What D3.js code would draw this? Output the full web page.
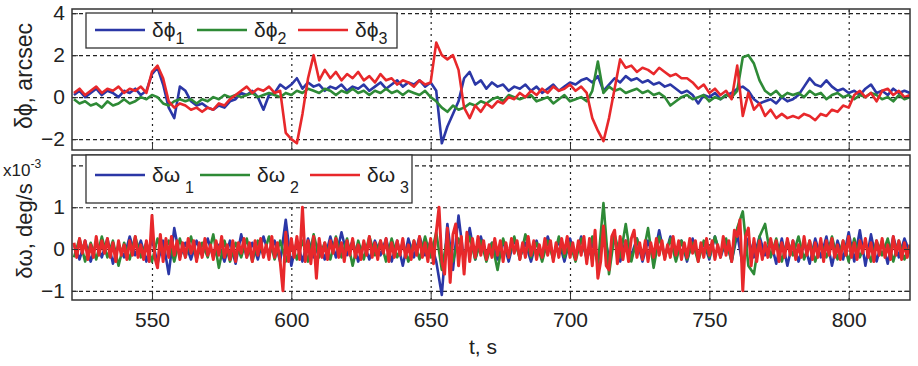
<!DOCTYPE html>
<html>
<head>
<meta charset="utf-8">
<script src="https://cdn.jsdelivr.net/npm/d3@7"></script>
<style>
body { margin: 0; background: #fff; }
svg { font-family: "Liberation Sans", Arial, sans-serif; }
</style>
</head>
<body>
<svg id="chart" width="918" height="366"></svg>
<script>
// sampling grids: 2 s for the coarse series, 1 s for the fine one
var tStart = 522, tStep = 2, nPts = 151;
var tStepFine = 1, nPtsFine = 301;

var xTicks = [550, 600, 650, 700, 750, 800];
var phiTicks = [-2, 0, 2, 4];
var omegaGrid = [-1, 0, 1, 2];
var omegaTicks = [-1, 0, 1];

// attitude error, arcsec
var phi1 = [
  0.1, 0.3, 0.0, 0.2, 0.4, 0.1, 0.3, 0.2, 0.0, 0.3,
  0.2, 0.4, 0.1, 0.3, 1.1, 1.4, 0.6, -0.5, -1.0, 0.5,
  0.3, -0.2, -0.4, -0.3, -0.5, -0.6, -0.4, -0.5, -0.2, -0.1,
  0.2, 0.1, 0.3, 0.0, -0.6, 0.1, 0.2, 0.6, 0.4, 0.6,
  0.9, 0.4, 0.7, 0.5, 0.6, 0.3, 0.5, 0.4, 0.6, 0.3,
  0.5, 0.4, 0.6, 0.3, 0.5, 0.7, 0.4, 0.6, 0.8, 0.5,
  0.7, 0.6, 0.8, 0.5, 0.7, 0.3, -2.2, -1.4, -0.8, -0.2,
  0.9, 1.2, 0.6, 0.8, 0.4, 0.7, 0.5, 0.6, 0.3, 0.5,
  0.4, 0.6, 0.3, 0.5, 0.2, 0.4, 0.6, 0.3, 0.5, 0.7,
  0.6, 0.8, 0.9, 0.7, 1.0, 0.3, 0.6, 0.9, 0.7, 1.0,
  0.8, 0.9, 0.7, 0.8, 0.6, 0.7, 0.5, 0.6, 0.4, 0.2,
  0.3, 0.1, -0.3, 0.1, 0.0, 0.2, -0.1, 0.1, 0.2, 0.4,
  0.5, 0.3, -0.1, -0.3, -0.2, -0.1, -0.3, 0.0, -0.2, -0.1,
  0.1, 0.5, 0.9, 0.6, 0.5, 0.8, 0.5, 0.3, 0.4, 0.2,
  0.3, 0.1, 0.4, 0.6, 0.2, 0.3, 0.1, 0.4, 0.2, 0.3,
  0.2
];
var phi2 = [
  -0.1, -0.3, -0.2, -0.4, -0.3, -0.5, -0.2, -0.4, -0.3, -0.1,
  -0.3, -0.2, 0.0, -0.1, 0.1, 0.0, -0.3, -0.4, -0.2, -0.1,
  -0.2, -0.1, -0.3, -0.1, -0.2, 0.0, -0.1, 0.1, 0.0, 0.1,
  0.0, 0.1, 0.2, 0.0, 0.1, 0.2, 0.1, 0.0, 0.2, 0.1,
  0.3, 0.2, 0.4, 0.3, 0.2, 0.4, 0.3, 0.1, 0.3, 0.2,
  0.4, 0.2, 0.3, 0.1, 0.3, 0.2, 0.4, 0.2, 0.3, 0.1,
  0.3, 0.2, 0.1, 0.3, 0.0, -0.2, -0.5, -0.7, -0.4, -0.6,
  -0.5, -0.3, -0.4, -0.2, -0.3, -0.1, 0.0, -0.2, 0.1, 0.0,
  -0.1, 0.0, 0.1, -0.2, -0.1, 0.0, -0.3, -0.1, 0.1, -0.2,
  -0.1, 0.0, -0.2, 0.3, 1.7, 0.2, 0.5, 0.3, 0.4, 0.2,
  0.3, 0.4, 0.2, 0.3, 0.1, 0.2, 0.0, -0.4, -0.2, 0.0,
  0.1, -0.1, 0.0, 0.1, -0.2, 0.0, -0.1, 0.1, 0.0, 0.3,
  1.9, 2.0, 1.6, 0.8, 0.3, 0.1, 0.3, 0.0, 0.2, 0.1,
  0.2, 0.0, 0.3, 0.1, 0.2, -0.1, 0.1, 0.2, 0.0, 0.1,
  -0.1, 0.1, 0.0, 0.2, 0.1, -0.1, 0.0, -0.2, 0.1, -0.1,
  0.0
];
var phi3 = [
  0.2, 0.4, 0.1, 0.3, 0.5, 0.2, 0.4, 0.3, 0.5, 0.2,
  0.4, 0.3, 0.5, 0.2, 1.2, 1.5, 0.9, -0.2, -0.5, -0.3,
  -0.4, -0.6, -0.5, -0.7, -0.5, -0.6, -0.3, -0.4, -0.1, 0.1,
  0.3, 0.5, 0.2, 0.4, 0.3, 0.5, 0.2, 0.3, -1.7, -2.0,
  -2.2, -0.8, 0.9, 2.0, 0.8, 1.3, 0.9, 1.2, 0.8, 1.1,
  0.9, 1.2, 0.8, 1.0, 0.7, 1.1, 0.8, 0.9, 0.6, 0.8,
  0.7, 0.5, 0.8, 0.6, 0.7, 2.6, 2.0, 1.8, 2.0, 1.3,
  -0.5, -1.0, -0.4, -0.7, -0.3, -0.5, -0.2, -0.3, 0.0, -0.1,
  0.2, 0.0, 0.3, 0.1, 0.4, 0.2, 0.5, 0.3, 0.4, 0.6,
  0.3, 0.5, 0.2, -1.0, -1.6, -2.1, -1.0, 0.4, 1.8, 1.4,
  1.5, 1.2, 1.4, 1.3, 1.1, 1.4, 1.2, 1.0, 1.1, 0.9,
  0.9, 0.7, 0.4, 0.6, 0.2, 0.4, 0.1, 0.3, -0.1, 1.5,
  -0.9, 0.2, -0.6, -0.3, -0.9, -0.6, -1.0, -0.8, -1.0, -0.9,
  -1.0, -0.8, -0.9, -1.1, -0.8, -0.9, -0.6, -0.7, -0.4, -0.5,
  0.1, 0.3, 0.0, 0.2, -0.2, 0.3, 0.4, 0.1, 0.3, 0.0,
  0.1
];

// angular rate error, 1e-3 deg/s (omega1, omega2 on the 2 s grid)
var omega1 = [
  0.1, -0.25, 0.2, -0.3, 0.15, -0.2, 0.25, -0.35, 0.1, -0.2,
  0.3, -0.15, 0.2, -0.3, 0.25, -0.35, 0.2, -0.6, 0.5, -0.2,
  0.15, -0.25, 0.2, -0.15, 0.25, -0.2, 0.1, -0.3, 0.2, -0.35,
  0.35, -0.2, 0.15, -0.25, 0.3, -0.15, 0.2, -0.3, 0.7, -0.4,
  0.2, -0.3, 0.25, -0.2, 0.15, -0.25, 0.3, -0.2, 0.4, -0.15,
  0.2, -0.3, 0.15, -0.25, 0.2, -0.15, 0.25, -0.3, 0.2, -0.4,
  0.25, -0.2, 0.3, -0.15, 0.2, -0.3, -1.1, 0.6, -0.5, 0.8,
  -0.3, 0.5, -0.25, 0.3, -0.2, 0.15, -0.25, 0.2, -0.3, 0.25,
  -0.2, 0.15, -0.3, 0.2, -0.25, 0.3, -0.15, 0.2, -0.3, 0.25,
  -0.2, 0.3, -0.25, 0.15, -0.3, 0.4, -0.2, 0.25, -0.3, 0.2,
  -0.15, 0.25, -0.3, 0.2, -0.25, 0.45, -0.2, 0.3, -0.15, 0.2,
  -0.3, 0.25, -0.2, 0.15, -0.25, 0.3, -0.2, 0.2, -0.3, 0.35,
  -0.4, 0.25, -0.2, 0.3, -0.15, 0.2, -0.35, 0.25, -0.4, 0.2,
  -0.3, 0.15, -0.35, 0.25, -0.2, 0.3, -0.4, 0.2, -0.25, 0.4,
  -0.3, 0.45, -0.4, 0.35, -0.3, 0.2, -0.35, 0.3, -0.2, 0.25,
  -0.1
];
var omega2 = [
  -0.2, 0.25, -0.3, 0.15, -0.25, 0.3, -0.2, 0.2, -0.4, 0.15,
  -0.25, 0.3, -0.2, 0.15, -0.3, 0.25, -0.15, 0.2, -0.3, 0.25,
  -0.2, 0.3, -0.25, 0.15, -0.2, 0.35, -0.45, 0.2, -0.3, 0.15,
  -0.2, 0.25, -0.3, 0.2, -0.15, 0.3, -0.25, 0.2, -0.3, 0.15,
  -0.25, 0.2, -0.3, 0.35, -0.2, 0.15, -0.25, 0.3, -0.2, 0.25,
  -0.4, 0.2, -0.25, 0.3, -0.15, 0.2, -0.3, 0.25, -0.2, 0.15,
  -0.3, 0.2, -0.25, 0.3, -0.2, 0.4, -0.5, 0.3, -0.3, 0.25,
  -0.2, 0.3, -0.25, 0.2, -0.3, 0.15, -0.5, 0.25, -0.2, 0.3,
  -0.25, 0.35, -0.2, 0.15, -0.3, 0.2, -0.25, 0.3, -0.2, 0.15,
  -0.3, 0.25, -0.2, 0.3, -0.4, 1.1, -0.6, 0.35, -0.2, 0.6,
  -0.3, 0.25, -0.2, 0.5, -0.45, 0.3, -0.2, 0.25, -0.3, 0.2,
  -0.25, 0.15, -0.3, 0.2, -0.2, 0.3, -0.15, 0.25, -0.3, 0.5,
  0.9, -0.4, -0.6, 0.3, 0.6, -0.2, 0.25, -0.3, 0.2, -0.15,
  0.3, -0.25, 0.2, -0.3, 0.15, -0.2, 0.3, -0.25, 0.2, -0.3,
  0.25, -0.2, 0.15, -0.3, 0.2, -0.15, 0.25, -0.3, 0.2, -0.25,
  0.1
];
// omega3 on the 1 s grid
var omega3 = [
  0.15, -0.2, 0.25, -0.1, 0.2, -0.25, 0.1, -0.2, 0.3, -0.15,
  0.2, -0.1, 0.25, -0.2, 0.15, -0.3, 0.2, -0.15, 0.1, -0.25,
  0.2, -0.15, 0.3, -0.2, 0.1, -0.25, 0.2, -0.3, 0.8, -0.2,
  -0.45, 0.35, -0.3, 0.25, -0.2, 0.3, -0.15, 0.2, -0.25, 0.15,
  -0.2, 0.25, -0.1, 0.2, -0.3, 0.15, -0.2, 0.25, -0.15, 0.1,
  -0.25, 0.2, -0.15, 0.3, -0.2, 0.1, -0.25, 0.2, -0.3, 0.15,
  -0.1, 0.25, -0.2, 0.15, -0.3, 0.2, -0.15, 0.25, -0.2, 0.1,
  -0.25, 0.3, -0.2, 0.15, -0.3, -1.0, 0.4, -0.3, 0.25, -0.2,
  0.3, -0.25, 1.0, -0.3, 0.2, -0.35, 0.3, -0.7, 0.25, -0.2,
  0.15, -0.25, 0.2, -0.1, 0.25, -0.2, 0.15, -0.3, 0.2, -0.15,
  0.25, -0.2, 0.1, -0.25, 0.2, -0.15, 0.3, -0.2, 0.15, -0.25,
  0.2, -0.1, 0.25, -0.3, 0.15, -0.2, 0.2, -0.15, 0.25, -0.2,
  0.1, -0.25, 0.2, -0.15, 0.3, -0.2, 0.15, -0.3, 0.25, -0.35,
  0.4, 1.0, -0.3, -0.6, 0.5, -0.8, 0.35, 0.6, -0.4, 0.3,
  -0.6, 0.4, -0.3, 0.25, -0.2, 0.3, -0.15, 0.2, -0.25, 0.1,
  -0.2, 0.25, -0.15, 0.2, -0.3, 0.15, -0.2, 0.25, -0.1, 0.2,
  -0.25, 0.15, -0.2, 0.3, -0.15, 0.2, -0.25, 0.1, -0.2, 0.25,
  -0.15, 0.2, -0.3, 0.15, -0.2, 0.25, -0.1, 0.3, -0.2, 0.15,
  -0.25, 0.2, -0.15, 0.3, -0.35, 0.25, -0.4, 0.45, -0.7, -0.3,
  0.55, -0.4, -0.5, 0.3, 0.45, -0.35, 0.3, -0.25, 0.2, -0.3,
  0.25, 0.45, -0.2, 0.15, -0.25, 0.2, -0.3, 0.15, -0.2, 0.25,
  -0.15, 0.2, -0.25, 0.1, -0.2, 0.3, -0.15, 0.2, -0.25, 0.15,
  -0.2, 0.25, -0.1, 0.2, -0.3, 0.15, -0.2, 0.25, -0.15, 0.2,
  -0.25, 0.1, -0.2, 0.3, -0.15, 0.2, -0.3, 0.45, 0.3, 0.7,
  -1.0, 0.3, 0.5, -0.4, 0.25, -0.3, 0.2, -0.25, 0.15, -0.2,
  0.25, -0.1, 0.2, -0.3, 0.15, -0.2, 0.25, -0.15, 0.2, -0.25,
  0.1, -0.2, 0.3, -0.15, 0.2, -0.25, 0.15, -0.2, 0.25, -0.3,
  0.2, -0.15, 0.25, -0.2, 0.1, -0.25, 0.2, -0.15, 0.3, -0.2,
  0.15, -0.25, 0.2, -0.1, 0.25, -0.2, 0.15, -0.3, 0.2, -0.15,
  0.25, -0.2, 0.1, -0.25, 0.3, -0.15, 0.2, -0.25, 0.15, -0.2,
  0.1
];

var colors = ["#2b37a6", "#2e8a36", "#e8282b"];
var times = d3.range(nPts).map(function(i) { return tStart + i * tStep; });
var timesFine = d3.range(nPtsFine).map(function(i) { return tStart + i * tStepFine; });

var svg = d3.select("#chart");
var left = 72, right = 910;

var x = d3.scaleLinear().domain([521.3, 822]).range([left, right]);

function drawPanel(cfg) {
    var y = d3.scaleLinear().domain(cfg.domain).range([cfg.bottom, cfg.top]);
    var w = right - left, h = cfg.bottom - cfg.top;
    var g = svg.append("g");

    svg.append("clipPath").attr("id", cfg.id)
        .append("rect").attr("x", left).attr("y", cfg.top).attr("width", w).attr("height", h);

    // grid
    g.append("g").attr("transform", "translate(0," + cfg.bottom + ")")
        .call(d3.axisBottom(x).tickValues(xTicks).tickSize(-h).tickFormat(""))
        .call(function(s) {
            s.select(".domain").remove();
            s.selectAll("line").attr("stroke", "#222").attr("stroke-dasharray", "2,4").attr("stroke-width", 1.2);
        });
    g.append("g").attr("transform", "translate(" + left + ",0)")
        .call(d3.axisLeft(y).tickValues(cfg.grid).tickSize(-w).tickFormat(""))
        .call(function(s) {
            s.select(".domain").remove();
            s.selectAll("line").attr("stroke", "#222").attr("stroke-dasharray", "4,3").attr("stroke-width", 1.2);
        });

    // series
    var lines = g.append("g").attr("clip-path", "url(#" + cfg.id + ")");
    cfg.series.forEach(function(s, i) {
        var tt = s[0];
        var line = d3.line()
            .x(function(d, j) { return x(tt[j]); })
            .y(function(d) { return y(d); });
        lines.append("path").datum(s[1])
            .attr("fill", "none")
            .attr("stroke", colors[i])
            .attr("stroke-width", cfg.lw[i])
            .attr("stroke-linejoin", "round")
            .attr("d", line);
    });

    // axes with inward ticks
    var axL = g.append("g").attr("transform", "translate(" + left + ",0)")
        .call(d3.axisLeft(y).tickValues(cfg.ticks).tickSizeInner(-6).tickSizeOuter(0).tickPadding(7)
            .tickFormat(d3.format("d")));
    axL.select(".domain").remove();
    axL.selectAll("text").attr("font-size", 21).attr("fill", "#222")
        .attr("font-family", "Liberation Sans, Arial, sans-serif");
    axL.selectAll("line").attr("stroke", "#333");

    var axR = g.append("g").attr("transform", "translate(" + right + ",0)")
        .call(d3.axisRight(y).tickValues(cfg.ticks).tickSizeInner(-6).tickSizeOuter(0).tickFormat(""));
    axR.select(".domain").remove();
    axR.selectAll("line").attr("stroke", "#333");

    var axB = g.append("g").attr("transform", "translate(0," + cfg.bottom + ")")
        .call(d3.axisBottom(x).tickValues(xTicks).tickSizeInner(-6).tickSizeOuter(0).tickPadding(12)
            .tickFormat(cfg.xLabels ? d3.format("d") : ""));
    axB.select(".domain").remove();
    axB.selectAll("text").attr("font-size", 21).attr("fill", "#222")
        .attr("font-family", "Liberation Sans, Arial, sans-serif");
    axB.selectAll("line").attr("stroke", "#333");

    var axT = g.append("g").attr("transform", "translate(0," + cfg.top + ")")
        .call(d3.axisTop(x).tickValues(xTicks).tickSizeInner(-6).tickSizeOuter(0).tickFormat(""));
    axT.select(".domain").remove();
    axT.selectAll("line").attr("stroke", "#333");

    g.append("rect").attr("x", left).attr("y", cfg.top).attr("width", w).attr("height", h)
        .attr("fill", "none").attr("stroke", "#333").attr("stroke-width", 1.5);

    // legend
    var lg = g.append("g");
    lg.append("rect").attr("x", cfg.legend.x).attr("y", cfg.legend.y)
        .attr("width", cfg.legend.w).attr("height", cfg.legend.h)
        .attr("fill", "#fff").attr("stroke", "#333").attr("stroke-width", 1.3);
    cfg.legend.items.forEach(function(it, i) {
        lg.append("line").attr("x1", it.x).attr("x2", it.x + 50)
            .attr("y1", cfg.legend.ly).attr("y2", cfg.legend.ly)
            .attr("stroke", colors[i]).attr("stroke-width", 2.5);
        var tx = lg.append("text").attr("x", it.x + 57).attr("y", cfg.legend.ty)
            .attr("font-size", 21).attr("fill", "#222");
        tx.append("tspan").text(cfg.legend.sym);
        tx.append("tspan").attr("dx", cfg.legend.subDx).attr("dy", cfg.legend.subDy)
            .attr("font-size", 16).text(String(i + 1));
    });
    return y;
}

drawPanel({
    id: "clipTop", top: 9, bottom: 150, domain: [-2.52, 4.2],
    grid: phiTicks, ticks: phiTicks, lw: [2.6, 2.6, 2.6], xLabels: false,
    series: [[times, phi1], [times, phi2], [times, phi3]],
    legend: { x: 86, y: 13, w: 311, h: 35, ly: 30, ty: 37, sym: "δϕ", subDx: 0, subDy: 7,
        items: [{ x: 95 }, { x: 197 }, { x: 298 }] }
});

drawPanel({
    id: "clipBot", top: 155, bottom: 300, domain: [-1.22, 2.25],
    grid: omegaGrid, ticks: omegaTicks, lw: [2.6, 2.6, 3.0], xLabels: true,
    series: [[times, omega1], [times, omega2], [timesFine, omega3]],
    legend: { x: 86, y: 155, w: 326, h: 48, ly: 175, ty: 182, sym: "δω", subDx: 5, subDy: 11,
        items: [{ x: 95 }, { x: 200 }, { x: 310 }] }
});

// axis titles
svg.append("text").attr("transform", "translate(32,76) rotate(-90)")
    .attr("text-anchor", "middle").attr("font-size", 23).attr("fill", "#222")
    .text("δϕ, arcsec");
svg.append("text").attr("transform", "translate(32,231) rotate(-90)")
    .attr("text-anchor", "middle").attr("font-size", 22).attr("fill", "#222")
    .text("δω, deg/s");

var ex = svg.append("text").attr("x", 3).attr("y", 176).attr("font-size", 17).attr("fill", "#222");
ex.append("tspan").text("x10");
ex.append("tspan").attr("dy", -8).attr("font-size", 12).text("-3");

svg.append("text").attr("x", 483).attr("y", 354).attr("text-anchor", "middle")
    .attr("font-size", 21).attr("fill", "#222").text("t, s");
</script>
</body>
</html>
